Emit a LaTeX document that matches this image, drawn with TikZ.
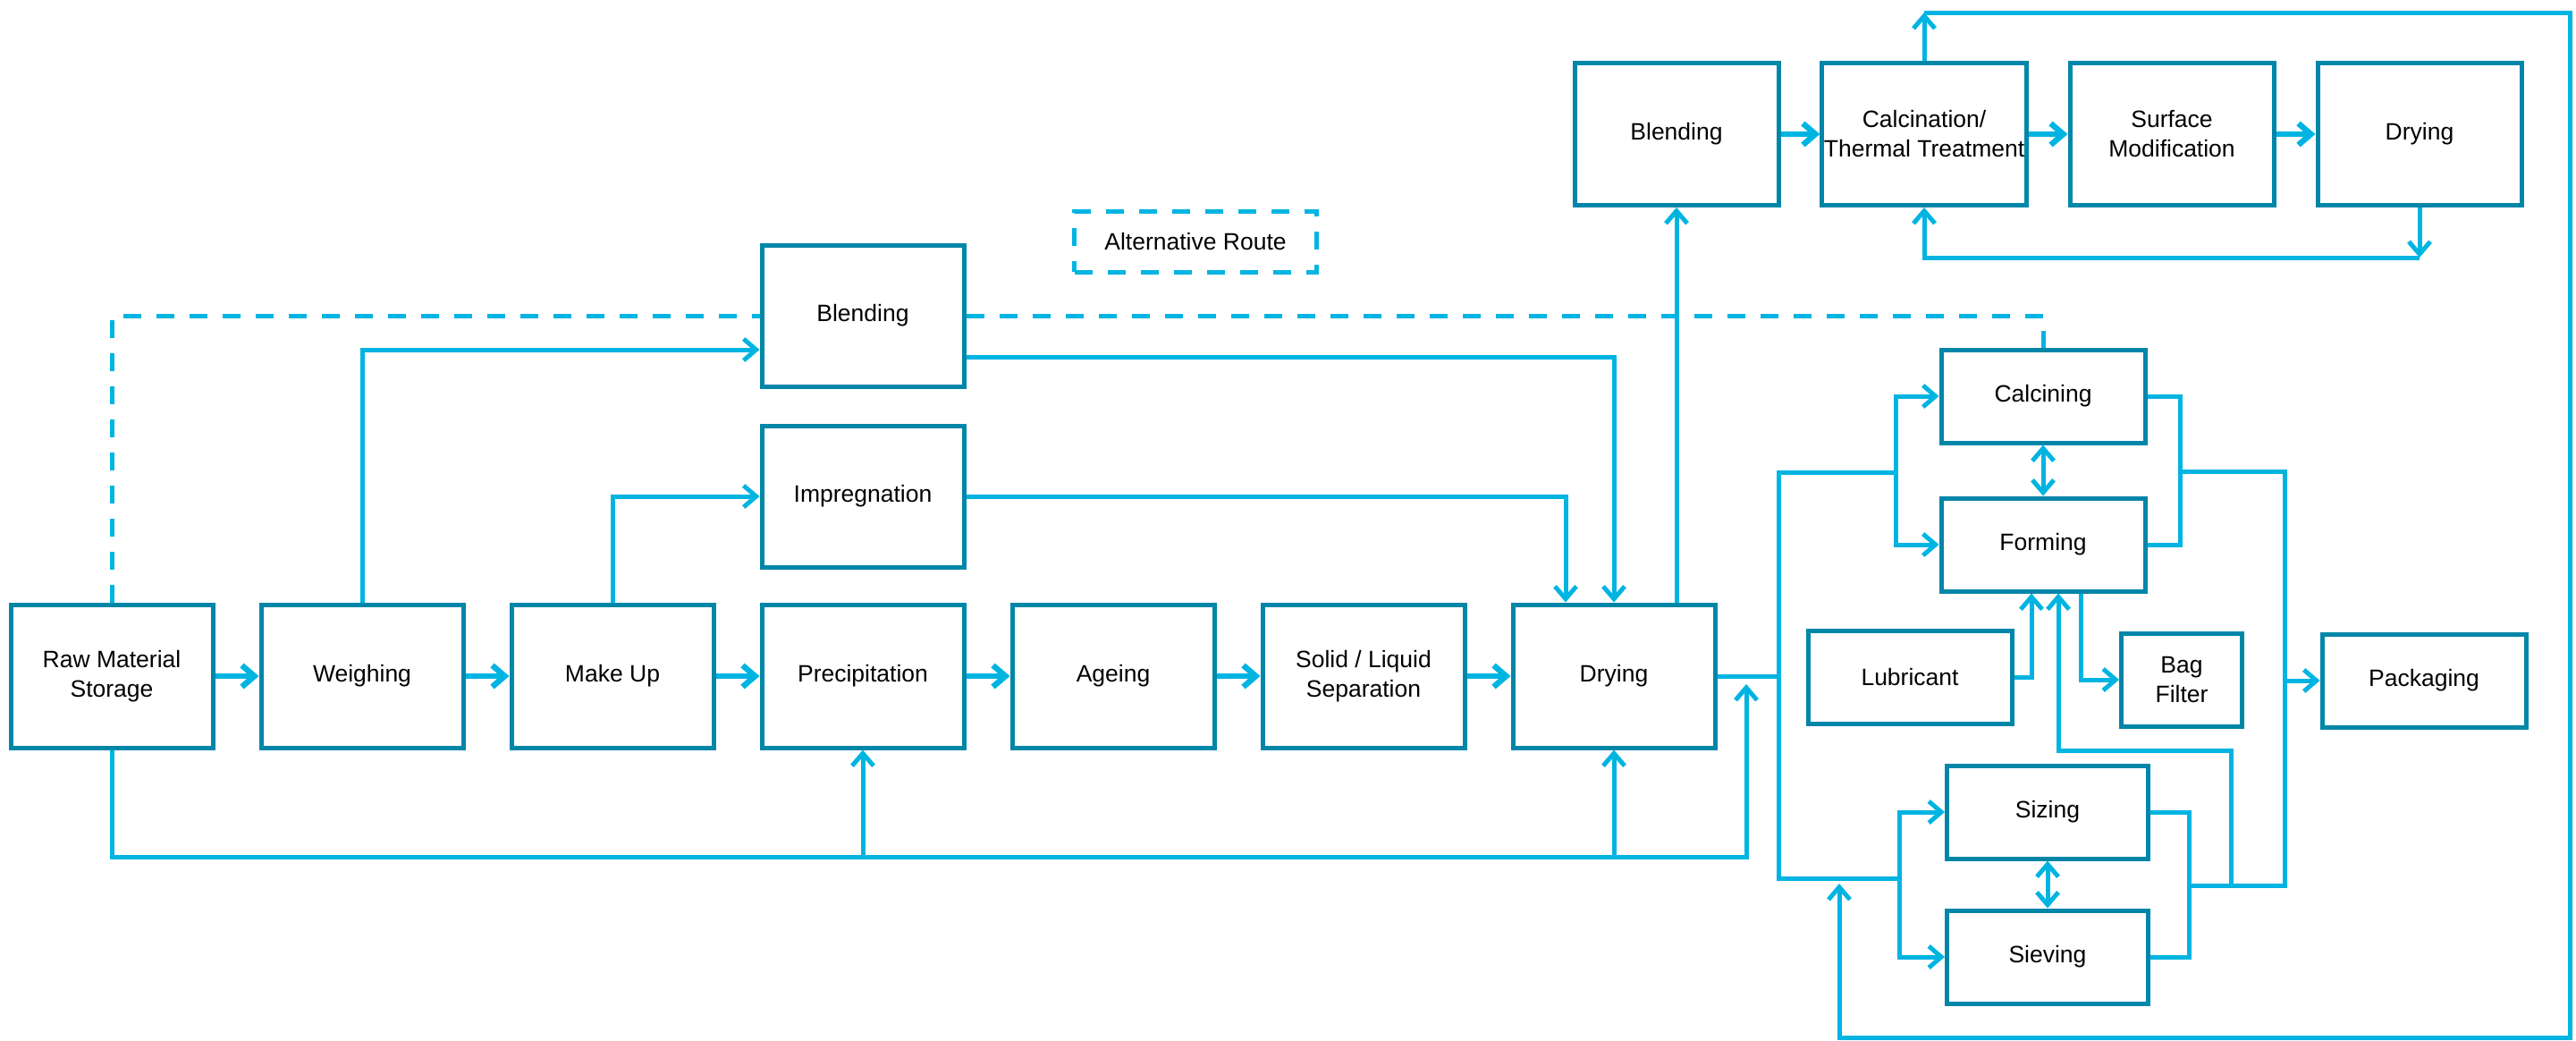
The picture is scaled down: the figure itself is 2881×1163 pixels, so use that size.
\documentclass[tikz,border=0pt]{standalone}
\usepackage{fontspec}
\setmainfont{Liberation Sans}
\usetikzlibrary{positioning,arrows.meta}
\definecolor{boxblue}{RGB}{0,134,168}
\definecolor{flowblue}{RGB}{0,180,226}
\tikzset{
  proc/.style={draw=boxblue, line width=5pt, minimum width=226pt, minimum height=160pt, inner sep=2pt, align=center},
  unit/.style={proc, minimum width=228pt, minimum height=104pt},
  line/.style={draw=flowblue, line width=5pt},
  flow/.style={line, line width=6.5pt, ->},
  alt/.style={draw=flowblue, line width=5pt, dash pattern=on 20pt off 17pt}
}

\begin{document}
\begin{tikzpicture}[x=1pt, y=-1pt, node distance=280pt, on grid,
  font=\fontsize{26.5}{33}\selectfont, >={Straight Barb[length=14pt,width=24pt]}]
\useasboundingbox (0,0) rectangle (2881,1163);
% main line
\node [proc] (raw) at (125,756) {Raw Material\\Storage};
\node [proc] (weigh) [right = of raw] {Weighing};
\node [proc] (makeup) [right = of weigh] {Make Up};
\node [proc] (precip) [right = of makeup] {Precipitation};
\node [proc] (ageing) [right = of precip] {Ageing};
\node [proc] (sep) [right = of ageing] {Solid / Liquid\\Separation};
\node [proc] (drying) [right = of sep] {Drying};
\node [proc, minimum height=158pt] (impreg) [above = 201pt of precip] {Impregnation};
\node [proc, minimum height=158pt] (blend) [above = 202pt of impreg] {Blending};
\node [alt, minimum width=271pt, minimum height=68pt] (legend) at (1337,270) {Alternative Route};
% upper line
\node [proc, minimum width=228pt, minimum height=159pt] (blend2) at (1875,150) {Blending};
\node [proc, minimum width=228pt, minimum height=159pt] (calc2) [right = 277pt of blend2] {Calcination/\\Thermal Treatment};
\node [proc, minimum width=228pt, minimum height=159pt] (surf) [right = 277pt of calc2] {Surface\\Modification};
\node [proc, minimum width=228pt, minimum height=159pt] (dry2) [right = 277pt of surf] {Drying};
% finishing units
\node [unit] (calcining) at (2285,443) {Calcining};
\node [unit] (forming) [below = 166pt of calcining] {Forming};
\node [unit] (lubricant) at (2136,757) {Lubricant};
\node [unit, minimum width=135pt] (bagfilter) at (2440,760) {Bag\\Filter};
\node [unit] (packaging) at (2711,761) {Packaging};
\node [unit, minimum width=225pt] (sizing) at (2290,908) {Sizing};
\node [unit, minimum width=225pt] (sieving) [below = 162pt of sizing] {Sieving};

\coordinate (dryout) at (1989,756);
\coordinate (feedtop) at (1989,528);
\coordinate (feedbot) at (1989,982);
\coordinate (splitA) at (2120,528);
\coordinate (splitB) at (2124,982);
\coordinate (mergeA) at (2438,527);
\coordinate (mergeB) at (2448,990);
\coordinate (colP) at (2555,527);
\coordinate (colQ) at (2555,990);
\coordinate (recycle) at (2495,990);
\coordinate (recycletop) at (2495,839);
\coordinate (bus) at (1953,958);
\coordinate (busend) at (1953,765);
\coordinate (loopR) at (2874,14);
\coordinate (loopB) at (2057,1160);
\coordinate (loopend) at (2057,988);

% main flow
\foreach \a/\b in {raw/weigh, weigh/makeup, makeup/precip, precip/ageing, ageing/sep, sep/drying, blend2/calc2, calc2/surf, surf/dry2}
  \draw [flow] (\a) -- (\b);

% alternative route
\draw [alt] (raw.north) |- (blend.west);
\draw [alt] (blend.east) -| (calcining.north);

% branches to drying
\draw [line, ->] (weigh.north) |- ([yshift=-38pt]blend.west);
\draw [line, ->] (makeup.north) |- (impreg.west);
\draw [line, ->] ([yshift=-46pt]blend.east) -| (drying.north);
\draw [line, ->] (impreg.east) -| ([xshift=-54pt]drying.north);
\draw [line, ->] (blend2.south |- drying.north) -- (blend2.south);

% bottom bus
\draw [line, ->] (raw.south) |- (bus) -- (busend);
\draw [line, ->] (precip.south |- bus) -- (precip.south);
\draw [line, ->] (drying.south |- bus) -- (drying.south);

% feed to finishing
\draw [line] (drying.east) -- (dryout);
\draw [line] (splitA) -- (feedtop) -- (feedbot) -- (splitB);
\draw [line, ->] (splitA) |- (calcining.west);
\draw [line, ->] (splitA) |- (forming.west);
\draw [line, ->] (splitB) |- (sizing.west);
\draw [line, ->] (splitB) |- (sieving.west);

% outputs
\draw [line] (calcining.east) -| (mergeA) |- (forming.east);
\draw [line] (mergeA) -- (colP) -- (colQ) -- (mergeB);
\draw [line] (sizing.east) -| (mergeB) |- (sieving.east);
\draw [line, ->] (colP |- packaging.west) -- (packaging.west);
\draw [line, <->] (calcining) -- (forming);
\draw [line, <->] (sizing) -- (sieving);
\draw [line, ->] (lubricant.east) -| ([xshift=-13pt]forming.south);
\draw [line, ->] ([xshift=42pt]forming.south) |- (bagfilter.west);
\draw [line, ->] (recycle) -- (recycletop) -| ([xshift=17pt]forming.south);

% upper loop
\draw [line, ->] (dry2.south) -- (dry2.south |- 0,288);
\draw [line, ->] (dry2.south |- 0,288) -| (calc2.south);
\draw [line, ->] (calc2.north) -- (calc2.north |- loopR);
\draw [line, ->] (calc2.north |- loopR) -- (loopR) |- (loopB) -- (loopend);
\end{tikzpicture}
\end{document}
